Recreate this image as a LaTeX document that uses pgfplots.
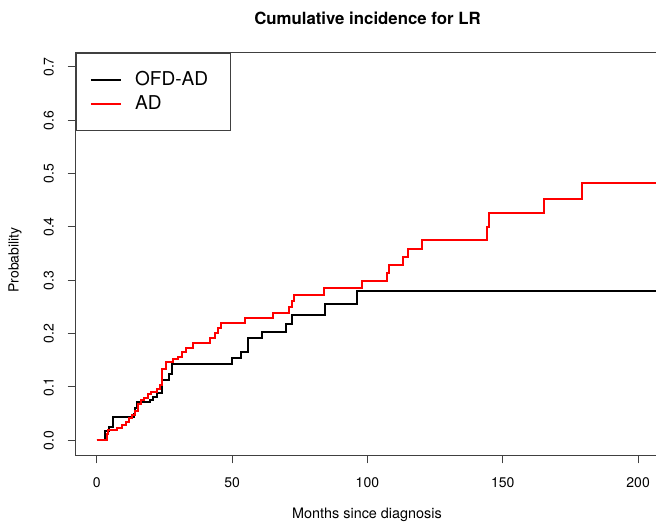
\documentclass[border=0pt]{standalone}
\usepackage{fontspec}
\setmainfont{TeX Gyre Heros}
\usepackage{pgfplots}
\pgfplotsset{compat=1.18}
\begin{document}
\begin{tikzpicture}
\useasboundingbox (0,0) rectangle (492pt,392.25pt);
\begin{axis}[
  name=ax,
  at={(56.775pt,50.775pt)}, anchor=south west,
  width=435.225pt, height=301.95pt, scale only axis,
  xmin=-7.76, xmax=206.6, ymin=-0.0281, ymax=0.7268,
  axis line style={draw=none},
  xtick={0,50,100,150,200}, xticklabels={0,50,100,150,200},
  ytick={0,0.1,0.2,0.3,0.4,0.5,0.6,0.7},
  yticklabels={0.0,0.1,0.2,0.3,0.4,0.5,0.6,0.7},
  xtick pos=bottom, ytick pos=left,
  tick align=outside, major tick length=6pt,
  tick style={black!75, line width=0.75pt},
  ticklabel style={font=\fontsize{10.5}{12}\selectfont},
  yticklabel style={rotate=90, anchor=base, inner sep=0pt},
  xticklabel style={anchor=north, inner sep=0pt},
  yticklabel shift=10.5pt,
  xticklabel shift=10.5pt,
  legend style={at={(0,1)}, anchor=north west, draw=black!75, line width=0.75pt,
    fill=white, inner xsep=10.2pt, inner ysep=11pt, row sep=0.05pt, column sep=10pt,
    font=\fontsize{14.3}{16}\selectfont,
    nodes={inner sep=0pt, text height=13.2pt, text depth=4.75pt, anchor=base west}},
  legend cell align=left,
  legend image code/.code={\draw[#1, line width=1.5pt] (0pt,4.3pt) -- (22.5pt,4.3pt);},
]
\addplot[const plot, black, line width=1.5pt] coordinates {
(0,0) (3.2,0.017) (4.4,0.025) (6.1,0.043) (13.6,0.050) (14.2,0.060) (15.0,0.071)
(19.7,0.075) (20.8,0.082) (22.3,0.089) (24.0,0.114) (26.8,0.125) (27.9,0.143)
(50.1,0.155) (53.2,0.166) (56.0,0.191) (61.0,0.204) (70.1,0.219) (72.0,0.235)
(84.3,0.255) (96.0,0.280) (210,0.280)};
\addlegendentry{\makebox[61.3pt][l]{OFD-AD}}
\addplot[const plot, red, line width=1.5pt] coordinates {
(0,0) (3.7,0.012) (4.3,0.020) (7.6,0.023) (9.2,0.029) (10.8,0.035) (12.0,0.041)
(12.9,0.048) (14.0,0.055) (15.2,0.069) (16.4,0.075) (17.6,0.080) (18.8,0.086)
(20.0,0.091) (22.3,0.097) (23.4,0.104) (24.0,0.133) (25.6,0.146) (28.1,0.152)
(30.0,0.156) (31.4,0.165) (33.0,0.174) (35.7,0.182) (41.9,0.191) (43.7,0.201)
(44.9,0.211) (46.0,0.220) (54.8,0.229) (65.0,0.239) (71.1,0.250) (72.0,0.261)
(72.9,0.273) (84.0,0.285) (98.0,0.299) (107.1,0.313) (108.1,0.328) (113.0,0.343)
(115.1,0.359) (120.1,0.376) (144.1,0.400) (145.0,0.426) (165.2,0.453) (179.4,0.483)
(210,0.483)};
\addlegendentry{\makebox[61.3pt][l]{AD}}
\end{axis}
\draw[black!75, line width=0.75pt] (ax.north east) -- (ax.north west) -- (ax.south west) -- (ax.south east);
\node[anchor=base, font=\bfseries\fontsize{12.6}{14}\selectfont] at (275.6pt,373.9pt) {Cumulative incidence for LR};
\node[anchor=base, font=\fontsize{10.8}{12}\selectfont] at (275.25pt,3pt) {Months since diagnosis};
\node[anchor=base, rotate=90, font=\fontsize{10.5}{12}\selectfont] at (13.9pt,197.25pt) {Probability};
\end{tikzpicture}
\end{document}
